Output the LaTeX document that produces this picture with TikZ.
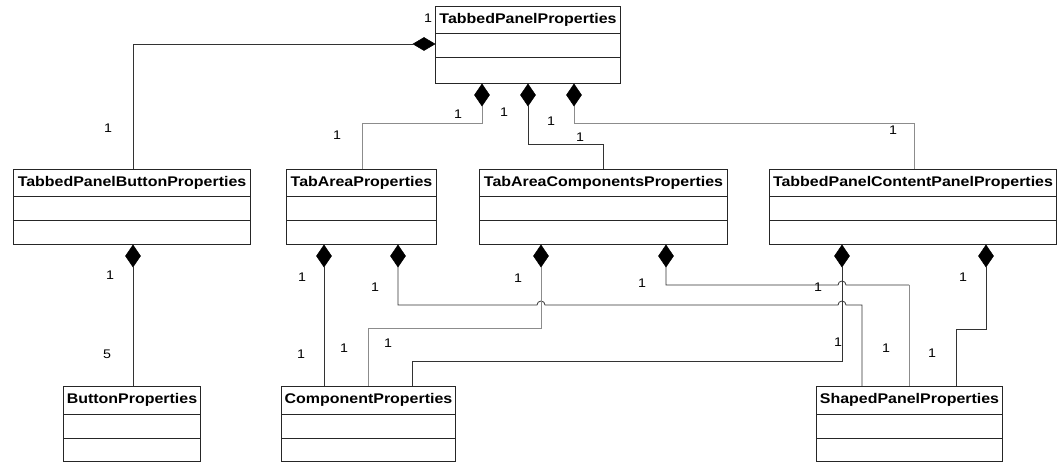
\documentclass[tikz,border=0pt]{standalone}
\usepackage{fontspec}
\setmainfont{Liberation Sans}[FakeStretch=1.14]
\usetikzlibrary{calc}
\tikzset{
  cls/.style={draw=black!85, line width=1pt, inner sep=0pt, anchor=north west, minimum height=75pt},
  clstitle/.style={font=\fontsize{14}{16}\selectfont\bfseries, inner sep=0pt},
  divider/.style={draw=black!85, line width=1pt},
  conn/.style={draw=black!80, line width=0.8pt},
  conng/.style={draw=black!45, line width=0.8pt},
  diam/.style={fill=black, draw=black, line width=0.5pt},
  mult/.style={font=\fontsize{12.5}{14}\selectfont, inner sep=0pt}
}
\newcommand{\umlclass}[6]{%
  \node[cls, minimum width=#4pt, minimum height=#5pt] (#1) at (#2,#3) {};
  \node[clstitle] (#1-t) at ($(#1.north)+(0,14)$) {#6};
  \draw[divider] ($(#1.north west)+(0,28)$) -- ($(#1.north east)+(0,28)$);
  \draw[divider] ($(#1.north west)+(0,52)$) -- ($(#1.north east)+(0,52)$);
}
% vertical diamond hanging below a box: #1 = tip coordinate
\newcommand{\vdiam}[1]{%
  \fill[diam] (#1) -- ++(7.5,11) -- ++(-7.5,11) -- ++(-7.5,-11) -- cycle;
}
\begin{document}
\begin{tikzpicture}[x=1pt,y=-1pt]
\useasboundingbox (0,0) rectangle (1058,462);

% classes
\umlclass{tpp}{435}{6}{185}{77}{TabbedPanelProperties}
\umlclass{tpbp}{13}{169}{237}{75}{TabbedPanelButtonProperties}
\umlclass{tap}{286}{169}{150}{75}{TabAreaProperties}
\umlclass{tacp}{479}{169}{248}{75}{TabAreaComponentsProperties}
\umlclass{tpcpp}{769}{169}{287}{75}{TabbedPanelContentPanelProperties}
\umlclass{bp}{63}{386}{137}{75}{ButtonProperties}
\umlclass{cp}{281}{386}{174}{75}{ComponentProperties}
\umlclass{spp}{816}{386}{186}{75}{ShapedPanelProperties}

% diamond anchor points
\coordinate (d1) at ($(tpp.north west)+(0,38)$);
\coordinate (d2) at ($(tpp.south west)+(47,0)$);
\coordinate (d3) at ($(tpp.south west)+(93,0)$);
\coordinate (d4) at ($(tpp.south west)+(139,0)$);
\coordinate (d5) at ($(tpbp.south west)+(120,0)$);
\coordinate (d6) at ($(tap.south west)+(38,0)$);
\coordinate (d7) at ($(tap.south west)+(112,0)$);
\coordinate (d8) at ($(tacp.south west)+(62,0)$);
\coordinate (d9) at ($(tacp.south west)+(187,0)$);
\coordinate (d10) at ($(tpcpp.south west)+(73,0)$);
\coordinate (d11) at ($(tpcpp.south west)+(217,0)$);

% connectors
\draw[conn] ($(d1)+(-22,0)$) -| ($(tpbp.north west)+(120,0)$);
\fill[diam] (d1) -- ++(-11,-6.5) -- ++(-11,6.5) -- ++(11,6.5) -- cycle;

\draw[conng] ($(d2)+(0,22)$) |- (362,123) -- ($(tap.north west)+(76,0)$);
\draw[conn] ($(d3)+(0,22)$) |- (603,144) -- ($(tacp.north west)+(124,0)$);
\draw[conng] ($(d4)+(0,22)$) |- (914,123) -- ($(tpcpp.north west)+(145,0)$);

\draw[conn] ($(d5)+(0,22)$) -- ($(bp.north west)+(70,0)$);
\draw[conn] ($(d6)+(0,22)$) -- ($(cp.north west)+(43,0)$);

\draw[conn] ($(d7)+(0,22)$) -- (398,305) -- (537,305)
  arc[start angle=180, end angle=360, radius=4] -- (838,305)
  arc[start angle=180, end angle=360, radius=4] -- (862,305) -- ($(spp.north west)+(46,0)$);
\draw[conng] ($(d8)+(0,22)$) |- (368,328) -- ($(cp.north west)+(87,0)$);
\draw[conn] ($(d9)+(0,22)$) -- (666,285) -- (838,285)
  arc[start angle=180, end angle=360, radius=4] -- (909,285);
\draw[conng] (909,285) -- ($(spp.north west)+(93,0)$);
\draw[conn] ($(d10)+(0,22)$) |- (412,361) -- ($(cp.north west)+(131,0)$);
\draw[conn] ($(d11)+(0,22)$) |- (956,329) -- ($(spp.north west)+(140,0)$);

\foreach \d in {d2,d3,d4,d5,d6,d7,d8,d9,d10,d11} {\vdiam{\d}}

% multiplicities
\node[mult] (m1) at (428,18) {1};
\node[mult] (m2) at (108,128) {1};
\node[mult] (m3) at (337,135) {1};
\node[mult] (m4) at (458,114) {1};
\node[mult] (m5) at (504,112) {1};
\node[mult] (m6) at (551,121) {1};
\node[mult] (m7) at (580,137) {1};
\node[mult] (m8) at (893,130) {1};
\node[mult] (m9) at (110,275) {1};
\node[mult] (m10) at (107,354) {5};
\node[mult] (m11) at (302,277) {1};
\node[mult] (m12) at (375,287) {1};
\node[mult] (m13) at (518,278) {1};
\node[mult] (m14) at (642,283) {1};
\node[mult] (m15) at (818,287) {1};
\node[mult] (m16) at (963,277) {1};
\node[mult] (m17) at (301,354) {1};
\node[mult] (m18) at (344,348) {1};
\node[mult] (m19) at (388,343) {1};
\node[mult] (m20) at (838,342) {1};
\node[mult] (m21) at (886,348) {1};
\node[mult] (m22) at (932,353) {1};
\end{tikzpicture}
\end{document}
